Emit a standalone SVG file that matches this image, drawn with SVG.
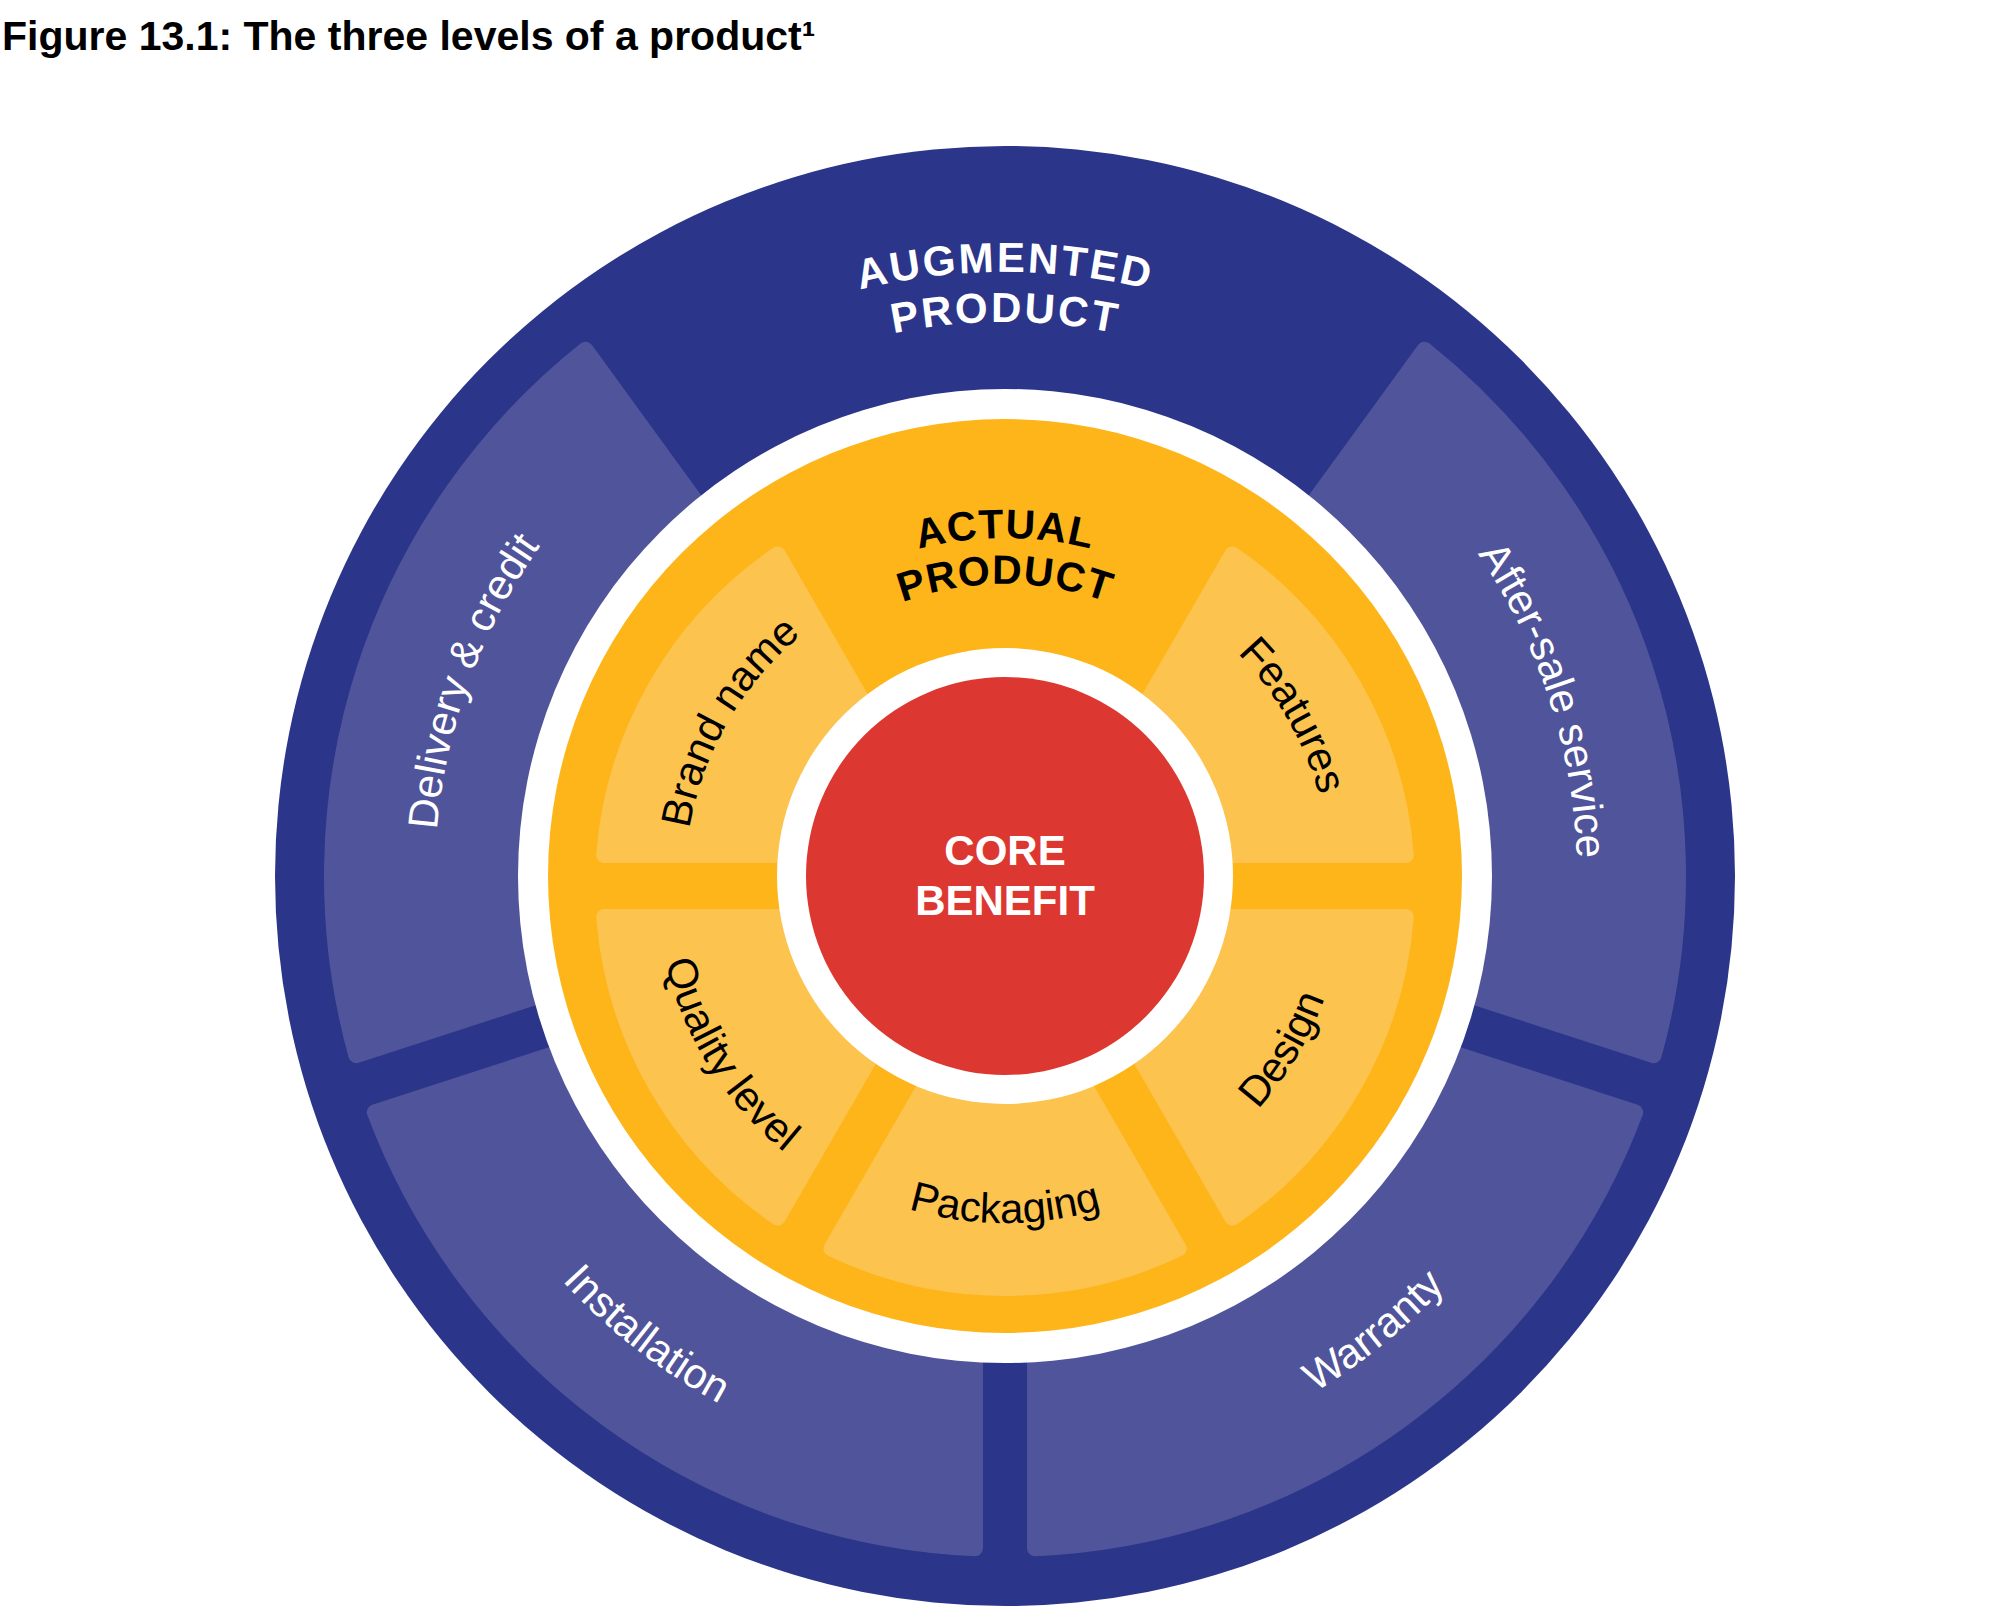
<svg xmlns="http://www.w3.org/2000/svg" width="2011" height="1610" viewBox="0 0 2011 1610">
<style>
.navy{fill:#2B3589}
.segO{fill:#50549A;stroke:#50549A;stroke-width:16;stroke-linejoin:round}
.segI{fill:#FDC34F;stroke:#FDC34F;stroke-width:16;stroke-linejoin:round}
.lblO{font-family:"Liberation Sans",Arial,sans-serif;font-size:42px;fill:#FFFFFF}
.lblI{font-family:"Liberation Sans",Arial,sans-serif;font-size:42px;fill:#000000}
.head{font-family:"Liberation Sans",Arial,sans-serif;font-weight:bold}
</style>
<defs>
<path id="pDel" d="M568.4,1242.4 A570,570 0 0 1 906.0,314.7"/>
<path id="pAft" d="M1123.9,316.5 A572,572 0 0 1 1430.1,1258.7"/>
<path id="pIns" d="M410.8,792.5 A600,600 0 0 0 1229.8,1432.3"/>
<path id="pWar" d="M789.3,1438.0 A602,602 0 0 0 1599.6,781.8"/>
<path id="pAug1" d="M481.9,574 A604,604 0 0 1 1528.1,574"/>
<path id="pAug2" d="M525.2,599 A554,554 0 0 1 1484.8,599"/>
<path id="pAct1" d="M707.1,710 A344,344 0 0 1 1302.9,710"/>
<path id="pAct2" d="M746.9,733 A298,298 0 0 1 1263.1,733"/>
<path id="pBra" d="M727.9,1042 A320,320 0 0 1 1005,562"/>
<path id="pFea" d="M1005,556 A326,326 0 0 1 1287.3,1045"/>
<path id="pQua" d="M696.9,718.2 A349,349 0 0 0 1017.2,1230.8"/>
<path id="pDes" d="M999.1,1222.0 A340,340 0 0 0 1302.4,717.2"/>
<path id="pPac" d="M709.7,1052.5 A341,341 0 0 0 1300.3,1052.5"/>
</defs>
<rect width="2011" height="1610" fill="#FFFFFF"/>
<g id="title">
<text class="head" x="2" y="50" font-size="41" fill="#000000">Figure 13.1: The three levels of a product¹</text>
</g>
<g id="augmented-product">
<circle class="navy" cx="1005" cy="876" r="730"/>
<g id="seg-after-sale"><path class="segO" d="M1053.5,860.2 L1424.5,349.7 A673,673 0 0 1 1653.7,1055.2 Z"/></g>
<g id="seg-warranty"><path class="segO" d="M1035,917.3 L1635.2,1112.3 A673,673 0 0 1 1035,1548.3 Z"/></g>
<g id="seg-installation"><path class="segO" d="M975,917.3 L975,1548.3 A673,673 0 0 1 374.8,1112.3 Z"/></g>
<g id="seg-delivery"><path class="segO" d="M956.5,860.2 L356.3,1055.2 A673,673 0 0 1 585.5,349.7 Z"/></g>
<circle cx="1005" cy="876" r="487" fill="#FFFFFF"/>
<text class="head" font-size="42" fill="#FFFFFF" letter-spacing="2.5" text-anchor="middle"><textPath href="#pAug1" startOffset="50%">AUGMENTED</textPath></text>
<text class="head" font-size="42" fill="#FFFFFF" letter-spacing="2.5" text-anchor="middle"><textPath href="#pAug2" startOffset="50%">PRODUCT</textPath></text>
<text class="lblO" font-size="43" text-anchor="middle"><textPath href="#pDel" startOffset="50%">Delivery &amp; credit</textPath></text>
<text class="lblO" font-size="43" text-anchor="middle"><textPath href="#pAft" startOffset="50%">After-sale service</textPath></text>
<text class="lblO" text-anchor="middle"><textPath href="#pIns" startOffset="50%">Installation</textPath></text>
<text class="lblO" text-anchor="middle"><textPath href="#pWar" startOffset="50%">Warranty</textPath></text>
</g>
<g id="actual-product">
<circle cx="1005" cy="876" r="457" fill="#FDB51A"/>
<g transform="translate(0,2)">
<g id="seg-features"><path class="segI" d="M1058.7,853 L1232.3,552.4 A402,402 0 0 1 1405.8,853 Z"/></g>
<g id="seg-design"><path class="segI" d="M1058.7,915 L1405.8,915 A402,402 0 0 1 1232.3,1215.6 Z"/></g>
<g id="seg-packaging"><path class="segI" d="M1005,946 L1178.6,1246.6 A402,402 0 0 1 831.5,1246.6 Z"/></g>
<g id="seg-quality"><path class="segI" d="M951.3,915 L777.8,1215.6 A402,402 0 0 1 604.2,915 Z"/></g>
<g id="seg-brand"><path class="segI" d="M951.3,853 L604.2,853 A402,402 0 0 1 777.8,552.4 Z"/></g>
</g>
<text class="head" font-size="41" fill="#000000" letter-spacing="1" text-anchor="middle"><textPath href="#pAct1" startOffset="50%">ACTUAL</textPath></text>
<text class="head" font-size="41" fill="#000000" letter-spacing="1" text-anchor="middle"><textPath href="#pAct2" startOffset="50%">PRODUCT</textPath></text>
<text class="lblI" text-anchor="middle"><textPath href="#pBra" startOffset="50%">Brand name</textPath></text>
<text class="lblI" text-anchor="middle"><textPath href="#pFea" startOffset="50%">Features</textPath></text>
<text class="lblI" text-anchor="middle"><textPath href="#pQua" startOffset="50%">Quality level</textPath></text>
<text class="lblI" text-anchor="middle"><textPath href="#pDes" startOffset="50%">Design</textPath></text>
<text class="lblI" text-anchor="middle"><textPath href="#pPac" startOffset="50%">Packaging</textPath></text>
</g>
<g id="core-benefit">
<circle cx="1005" cy="876" r="228" fill="#FFFFFF"/>
<circle cx="1005" cy="876" r="199" fill="#DC3730"/>
<text class="head" font-size="42" fill="#FFFFFF" text-anchor="middle"><tspan x="1005" y="865">CORE</tspan><tspan x="1005" y="915">BENEFIT</tspan></text>
</g>
</svg>
